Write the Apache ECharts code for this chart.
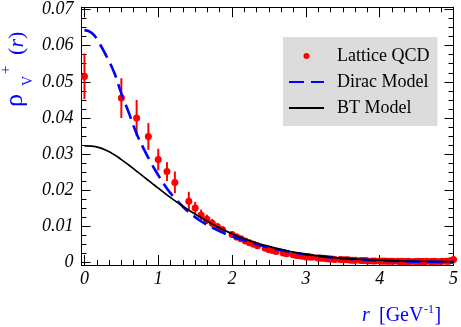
<!DOCTYPE html>
<html><head><meta charset="utf-8">
<script src="https://cdn.jsdelivr.net/npm/echarts@6/dist/echarts.min.js"></script>
<style>html,body{margin:0;padding:0;background:#fff}#c{width:461px;height:327px}</style>
</head><body><div id="c"></div>
<script>
// ---- axis ticks ----
const xTickValues = [0, 1, 2, 3, 4, 5];
const xTickLabels = ['0', '1', '2', '3', '4', '5'];
const xMinorTicks = [0.167,0.333,0.5,0.667,0.833, 1.167,1.333,1.5,1.667,1.833, 2.167,2.333,2.5,2.667,2.833,
                     3.167,3.333,3.5,3.667,3.833, 4.167,4.333,4.5,4.667,4.833];
const yTickValues = [0, 0.01, 0.02, 0.03, 0.04, 0.05, 0.06, 0.07];
const yTickLabels = ['0', '0.01', '0.02', '0.03', '0.04', '0.05', '0.06', '0.07'];
const yMinorTicks = [0.0025,0.005,0.0075, 0.0125,0.015,0.0175, 0.0225,0.025,0.0275, 0.0325,0.035,0.0375,
                     0.0425,0.045,0.0475, 0.0525,0.055,0.0575, 0.0625,0.065,0.0675];

// ---- Lattice QCD points ----
const latticeR = [0, 0.5, 0.707, 0.866, 1.0, 1.118, 1.225, 1.414, 1.5, 1.581, 1.658, 1.732, 1.803, 1.871,
  2.0, 2.062, 2.121, 2.179, 2.236, 2.291, 2.345,
  2.449, 2.5, 2.55, 2.598,
  2.693, 2.739,
  2.828, 2.872, 2.915, 2.958, 3.0, 3.041, 3.082,
  3.162, 3.202, 3.24, 3.279, 3.317, 3.354, 3.391,
  3.464, 3.5, 3.536, 3.571, 3.606, 3.64, 3.674,
  3.742, 3.775, 3.808, 3.841,
  3.905, 3.937,
  4.0, 4.031, 4.062, 4.093, 4.123, 4.153, 4.183,
  4.243, 4.272, 4.301, 4.33, 4.359, 4.387, 4.416,
  4.472, 4.5, 4.528, 4.555, 4.583, 4.61, 4.637,
  4.69, 4.717, 4.743, 4.77,
  4.822, 4.848,
  4.899, 4.924, 4.95, 4.975, 5.0];
const latticeV = [0.0515, 0.0455, 0.0400, 0.0349, 0.0285, 0.0252, 0.0222, 0.0170, 0.0151, 0.0132, 0.0120, 0.0109, 0.0099, 0.0091,
  0.0078, 0.0071, 0.0066, 0.0060, 0.0055, 0.0051, 0.0047,
  0.0040, 0.0036, 0.0034, 0.0031,
  0.0027, 0.0025,
  0.0022, 0.0020, 0.0019, 0.0018, 0.0016, 0.0016, 0.0015,
  0.0013, 0.0012, 0.0012, 0.0011, 0.0010, 0.0010, 0.0009,
  0.0009, 0.0008, 0.0008, 0.0008, 0.0007, 0.0007, 0.0007,
  0.0006, 0.0006, 0.0006, 0.0005,
  0.0005, 0.0005,
  0.0005, 0.0004, 0.0005, 0.0004, 0.0004, 0.0004, 0.0004,
  0.0004, 0.0003, 0.0004, 0.0003, 0.0003, 0.0004, 0.0003,
  0.0003, 0.0003, 0.0004, 0.0003, 0.0003, 0.0003, 0.0004,
  0.0003, 0.0003, 0.0004, 0.0003,
  0.0003, 0.0004,
  0.0004, 0.0004, 0.0005, 0.0006, 0.0009];
const latticeErr = [0.0063, 0.0055, 0.0050, 0.0037, 0.0030, 0.0026, 0.0030, 0.0026, 0.0017, 0.0015, 0.0013, 0.0012, 0.0011, 0.0010,
  0.0009, 0.0009, 0.0008, 0.0008, 0.0007, 0.0007, 0.0006,
  0.0005, 0.0005, 0.0005, 0.0005,
  0.0005, 0.0005,
  0.0005, 0.0005, 0.0005, 0.0005, 0.0004, 0.0004, 0.0004,
  0.0004, 0.0004, 0.0004, 0.0004, 0.0004, 0.0004, 0.0004,
  0.0004, 0.0004, 0.0004, 0.0004, 0.0004, 0.0004, 0.0004,
  0.0004, 0.0004, 0.0004, 0.0004,
  0.0004, 0.0004,
  0.0003, 0.0003, 0.0003, 0.0003, 0.0003, 0.0003, 0.0003,
  0.0003, 0.0003, 0.0003, 0.0003, 0.0003, 0.0003, 0.0003,
  0.0003, 0.0003, 0.0003, 0.0003, 0.0003, 0.0003, 0.0003,
  0.0003, 0.0003, 0.0003, 0.0003,
  0.0003, 0.0003,
  0.0003, 0.0003, 0.0003, 0.0003, 0.0004];

// ---- Dirac model curve ----
const diracR = [0, 0.1, 0.2, 0.3, 0.4, 0.5, 0.6, 0.7, 0.8, 0.9, 1.0, 1.1, 1.2, 1.3, 1.4, 1.5, 1.6, 1.8, 2.0, 2.25, 2.5, 2.75, 3.0, 3.5, 4.0, 4.5, 5.0];
const diracV = [0.0643, 0.0635, 0.0607, 0.0570, 0.0527, 0.0468, 0.0415, 0.0360, 0.0316, 0.0277, 0.0242, 0.0210, 0.0184, 0.0162, 0.0142, 0.0126, 0.0112, 0.0090, 0.0073, 0.0056, 0.0042, 0.0031, 0.0023, 0.0012, 0.0006, 0.0003, 0.0002];

// ---- BT model curve ----
const btR = [0, 0.1, 0.2, 0.3, 0.4, 0.5, 0.6, 0.7, 0.8, 0.9, 1.0, 1.2, 1.4, 1.6, 1.8, 2.0, 2.25, 2.5, 2.75, 3.0, 3.5, 4.0, 4.5, 5.0];
const btV = [0.0323, 0.0322, 0.0318, 0.0310, 0.0299, 0.0285, 0.0270, 0.0254, 0.0238, 0.0222, 0.0206, 0.0175, 0.0147, 0.0122, 0.0099, 0.0080, 0.0060, 0.0045, 0.0033, 0.0023, 0.0012, 0.0007, 0.0004, 0.0003];

const X_MIN = -0.04, X_MAX = 5;
const Y_MIN = -0.00064, Y_MAX = 0.0706;
const LBL_FONT = 'Liberation Serif';

function lblFmt(values, labels) {
  return function (v) {
    let best = 0;
    for (let i = 0; i < values.length; i++) if (Math.abs(values[i] - v) < Math.abs(values[best] - v)) best = i;
    return labels[best];
  };
}
function mkAxis(type, pos, ticks, len, labelCfg) {
  const isX = type === 'x';
  const ax = {
    type: 'value', position: pos, offset: 0,
    min: isX ? X_MIN : Y_MIN, max: isX ? X_MAX : Y_MAX,
    axisLine: { show: true, onZero: false, lineStyle: { color: '#000', width: 1 } },
    splitLine: { show: false },
    axisTick: { show: true, inside: true, length: len, customValues: ticks, lineStyle: { color: '#000', width: 1 } },
    axisLabel: { show: false }
  };
  if (labelCfg) ax.axisLabel = labelCfg;
  return ax;
}

const chart = echarts.init(document.getElementById('c'), null, { renderer: 'canvas' });
const option = {
  animation: false,
  backgroundColor: '#fff',
  grid: { left: 81.5, right: 6, top: 7.3, bottom: 62, containLabel: false },
  xAxis: [
    mkAxis('x', 'bottom', xTickValues, 10, {
      show: true, customValues: xTickValues, margin: 5, hideOverlap: false,
      formatter: lblFmt(xTickValues, xTickLabels),
      fontFamily: LBL_FONT, fontStyle: 'italic', fontSize: 18, color: '#000'
    }),
    mkAxis('x', 'bottom', xMinorTicks, 5),
    mkAxis('x', 'top', xTickValues, 10),
    mkAxis('x', 'top', xMinorTicks, 5)
  ],
  yAxis: [
    mkAxis('y', 'left', yTickValues, 9, {
      show: true, customValues: yTickValues, margin: 8, hideOverlap: false,
      formatter: lblFmt(yTickValues, yTickLabels),
      fontFamily: LBL_FONT, fontStyle: 'italic', fontSize: 18, color: '#000'
    }),
    mkAxis('y', 'left', yMinorTicks, 5),
    mkAxis('y', 'right', yTickValues, 9),
    mkAxis('y', 'right', yMinorTicks, 5)
  ],
  legend: {
    orient: 'vertical', left: 283, top: 37,
    backgroundColor: '#dcdcdc', borderWidth: 0,
    padding: [9, 8, 8, 5],
    itemWidth: 35, itemHeight: 6, itemGap: 6,
    textStyle: { fontFamily: LBL_FONT, fontSize: 18, color: '#000', lineHeight: 20, padding: [0, 0, 0, 8] },
    data: [
      { name: 'Lattice QCD' },
      { name: 'Dirac Model', itemStyle: { opacity: 0 } },
      { name: 'BT Model', itemStyle: { opacity: 0 } }
    ]
  },
  graphic: [
    {
      type: 'group', x: 0, y: 108, rotation: Math.PI / 2,
      children: [
        { type: 'text', x: 1, y: 15, style: { text: 'ρ', font: '26px "Liberation Serif"', fill: '#0000ff', textAlign: 'left', textVerticalAlign: 'middle' } },
        { type: 'text', x: 22, y: 28, style: { text: 'V', font: '14px "Liberation Serif"', fill: '#0000ff', textAlign: 'left', textVerticalAlign: 'middle' } },
        { type: 'text', x: 34, y: 6, style: { text: '+', font: '15px "Liberation Serif"', fill: '#0000ff', textAlign: 'left', textVerticalAlign: 'middle' } },
        { type: 'text', x: 53, y: 17, style: { text: '(', font: '22px "Liberation Serif"', fill: '#0000ff', textAlign: 'left', textVerticalAlign: 'middle' } },
        { type: 'text', x: 60.5, y: 17, style: { text: 'r', font: 'italic 22px "Liberation Serif"', fill: '#0000ff', textAlign: 'left', textVerticalAlign: 'middle' } },
        { type: 'text', x: 69, y: 17, style: { text: ')', font: '22px "Liberation Serif"', fill: '#0000ff', textAlign: 'left', textVerticalAlign: 'middle' } }
      ]
    },
    { type: 'text', x: 362, y: 316, style: { text: 'r', font: 'italic 20px "Liberation Serif"', fill: '#0000ff', textAlign: 'left', textVerticalAlign: 'middle' } },
    { type: 'text', x: 379, y: 316, style: { text: '[GeV', font: '20px "Liberation Serif"', fill: '#0000ff', textAlign: 'left', textVerticalAlign: 'middle' } },
    { type: 'text', x: 424, y: 310, style: { text: '-1', font: '12px "Liberation Serif"', fill: '#0000ff', textAlign: 'left', textVerticalAlign: 'middle' } },
    { type: 'text', x: 434.5, y: 316, style: { text: ']', font: '20px "Liberation Serif"', fill: '#0000ff', textAlign: 'left', textVerticalAlign: 'middle' } }
  ],
  series: [
    {
      type: 'custom', name: 'Lattice errors', xAxisIndex: 0, yAxisIndex: 0, clip: false, z: 2,
      data: latticeR.map((r, i) => [r, latticeV[i] - latticeErr[i], latticeV[i] + latticeErr[i]]),
      encode: { x: 0, y: [1, 2] },
      renderItem: function (params, api) {
        const p1 = api.coord([api.value(0), api.value(1)]);
        const p2 = api.coord([api.value(0), api.value(2)]);
        return { type: 'line', shape: { x1: p1[0], y1: p1[1], x2: p2[0], y2: p2[1] }, style: { stroke: '#ff0000', lineWidth: 2 } };
      }
    },
    {
      type: 'scatter', name: 'Lattice QCD', xAxisIndex: 0, yAxisIndex: 0, clip: false, z: 2,
      symbol: 'circle', symbolSize: 7,
      itemStyle: { color: '#ff0000', opacity: 1 },
      data: latticeR.map((r, i) => [r, latticeV[i]])
    },
    {
      type: 'line', name: 'Dirac Model', xAxisIndex: 0, yAxisIndex: 0, z: 3,
      smooth: true, showSymbol: false, symbol: 'none',
      lineStyle: { color: '#0000ff', width: 2.6, type: [15, 7] },
      itemStyle: { color: '#0000ff' },
      data: diracR.map((r, i) => [r, diracV[i]])
    },
    {
      type: 'line', name: 'BT Model', xAxisIndex: 0, yAxisIndex: 0, z: 3,
      smooth: true, showSymbol: false, symbol: 'none',
      lineStyle: { color: '#000000', width: 1.7 },
      itemStyle: { color: '#000000' },
      data: btR.map((r, i) => [r, btV[i]])
    }
  ]
};
chart.setOption(option);
</script>
</body></html>
